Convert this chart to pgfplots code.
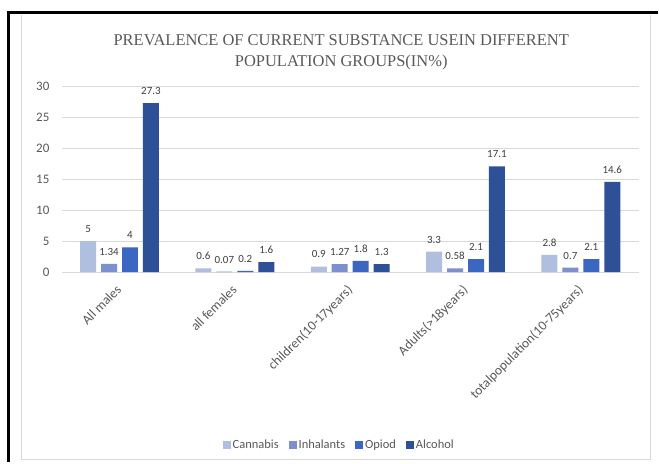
\documentclass[border=0pt]{standalone}
\usepackage{fontspec}
\setmainfont{Carlito}
\newfontfamily\titlefont{Liberation Serif}
\usepackage{pgfplots}
\pgfplotsset{compat=1.18}

\definecolor{cannabis}{HTML}{B0BEE0}
\definecolor{inhal}{HTML}{7B90CC}
\definecolor{opiod}{HTML}{3B66C2}
\definecolor{alco}{HTML}{2D5096}
\definecolor{txt}{HTML}{595959}
\definecolor{gridc}{HTML}{D9D9D9}

\begin{document}
\begin{tikzpicture}[x=1pt,y=1pt]
% page frame
\fill[white] (0,0) rectangle (659,463);
\draw[gridc, line width=0.8pt] (21,448) -- (21,3) -- (652,3) -- (652,448);
\draw[black, line width=3pt] (9,0) -- (9,450) -- (659,450);

% title
\node[text=txt, font=\titlefont\fontsize{16.5}{21}\selectfont, align=center]
  at (342,411) {PREVALENCE OF CURRENT SUBSTANCE USEIN DIFFERENT\\POPULATION GROUPS(IN\%)};

\begin{axis}[
    at={(62pt,190.3pt)}, anchor=south west,
    scale only axis,
    width=578pt, height=186pt,
    ybar=5pt, bar width=16pt,
    xmin=-0.5, xmax=4.5,
    ymin=0, ymax=30,
    ytick={0,5,...,30},
    xtick={0,...,4},
    xticklabels={All males, all females, children(10-17years), Adults(>18years), totalpopulation(10-75years)},
    x tick label style={xshift=-4pt, yshift=-7pt, rotate=45, anchor=north east, text=txt,
        font=\fontsize{13.5}{15}\selectfont},
    y tick label style={text=txt, font=\fontsize{13}{15}\selectfont, xshift=-9pt},
    /pgf/number format/assume math mode=true,
    ymajorgrids, grid style={gridc, line width=0.8pt},
    axis line style={draw=none},
    major tick length=0pt,
    point meta=explicit symbolic,
    nodes near coords,
    nodes near coords style={text=black!75, font=\fontsize{11}{13}\selectfont, yshift=5pt},
    legend columns=4,
    legend style={draw=none, fill=none, at={(0.481,-0.93)}, anchor=center,
        font=\fontsize{12.5}{14}\selectfont, text=txt,
        /tikz/every even column/.append style={column sep=8pt}},
    legend image code/.code={\fill[#1] (0pt,-4pt) rectangle (8pt,4pt);},
]
\addplot[fill=cannabis, draw=none] coordinates {
    (0,5) [5] (1,0.6) [0.6] (2,0.9) [0.9] (3,3.3) [3.3] (4,2.8) [2.8]
};
\addplot[fill=inhal, draw=none] coordinates {
    (0,1.34) [1.34] (1,0.07) [0.07] (2,1.27) [1.27] (3,0.58) [0.58] (4,0.7) [0.7]
};
\addplot[fill=opiod, draw=none] coordinates {
    (0,4) [4] (1,0.2) [0.2] (2,1.8) [1.8] (3,2.1) [2.1] (4,2.1) [2.1]
};
\addplot[fill=alco, draw=none] coordinates {
    (0,27.3) [27.3] (1,1.6) [1.6] (2,1.3) [1.3] (3,17.1) [17.1] (4,14.6) [14.6]
};
\legend{Cannabis, Inhalants, Opiod, Alcohol}
\end{axis}
\end{tikzpicture}
\end{document}
